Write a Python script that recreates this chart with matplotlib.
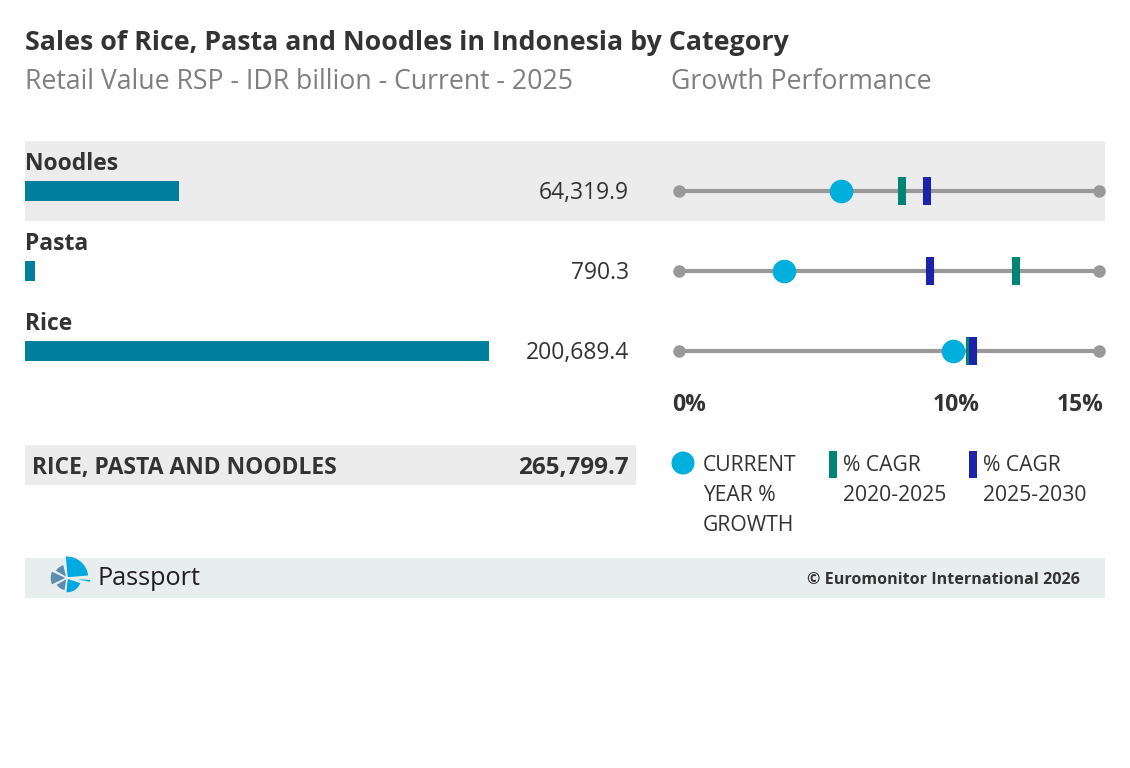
import matplotlib
matplotlib.use("Agg")
import matplotlib.pyplot as plt
from matplotlib.patches import Rectangle, Circle, Wedge

plt.rcParams['font.family'] = ['Open Sans', 'DejaVu Sans']

categories = ['Noodles', 'Pasta', 'Rice']
sales = [64319.9, 790.3, 200689.4]
value_labels = ['64,319.9', '790.3', '200,689.4']
current_growth = [5.8, 3.75, 9.8]
cagr_20_25 = [7.95, 12.05, 10.4]
cagr_25_30 = [8.85, 8.95, 10.5]
total_label = 'RICE, PASTA AND NOODLES'
total_value = '265,799.7'
growth_ticks = ['0%', '10%', '15%']
legend_lines = [['CURRENT', 'YEAR %', 'GROWTH'],
                ['% CAGR', '2020-2025'],
                ['% CAGR', '2025-2030']]

W, H = 1130, 768
DARK = '#333333'
GREY_TXT = '#7f7f7f'
BAR = '#00809e'
DOT = '#00afdb'
GREEN = '#008474'
BLUE = '#1d22a8'
LINE = '#999999'
FOOT = '#e8eded'
FS = 16.5


def px_axes(fig, x0, y0, x1, y1):
    # axes placed by pixel box (top-left origin)
    return fig.add_axes([x0 / W, 1 - y1 / H, (x1 - x0) / W, (y1 - y0) / H])


fig = plt.figure(figsize=(W / 100, H / 100), dpi=100)
bg = fig.add_axes([0, 0, 1, 1])
bg.set_xlim(0, W)
bg.set_ylim(H, 0)
bg.axis('off')

# bands
bg.add_patch(Rectangle((25, 141), 1080, 80, color='#ececec', lw=0))
bg.add_patch(Rectangle((25, 445), 611, 40, color='#ececec', lw=0))
bg.add_patch(Rectangle((25, 558), 1080, 40, color=FOOT, lw=0))

bg.text(25, 49.5, 'Sales of Rice, Pasta and Noodles in Indonesia by Category',
        fontsize=19.3, fontweight='bold', color=DARK, va='baseline')
bg.text(25, 89, 'Retail Value RSP - IDR billion - Current - 2025',
        fontsize=19.2, color=GREY_TXT, va='baseline')
bg.text(671, 89, 'Growth Performance', fontsize=19.2, color=GREY_TXT, va='baseline')

for i, (name, lab) in enumerate(zip(categories, value_labels)):
    y = 191 + 80 * i
    bg.text(25, y - 21, name, fontsize=FS, fontweight='bold', color=DARK, va='baseline')
    bg.text(629, y + 8, lab, fontsize=FS, color=DARK, va='baseline', ha='right')

bg.text(32, 474, total_label, fontsize=FS, fontweight='bold', color=DARK, va='baseline')
bg.text(629, 474, total_value, fontsize=17.5, fontweight='bold', color=DARK, va='baseline', ha='right')

bg.text(672, 411, growth_ticks[0], fontsize=FS, fontweight='bold', color=DARK, va='baseline')
bg.text(956, 411, growth_ticks[1], fontsize=FS, fontweight='bold', color=DARK, va='baseline', ha='center')
bg.text(1104, 411, growth_ticks[2], fontsize=FS, fontweight='bold', color=DARK, va='baseline', ha='right')

# legend
bg.add_patch(Circle((683, 463), 11.5, color=DOT, lw=0))
bg.add_patch(Rectangle((829, 451), 8, 27, color=GREEN, lw=0))
bg.add_patch(Rectangle((969, 451), 8, 27, color=BLUE, lw=0))
for x, lines in zip([703, 843, 983], legend_lines):
    for k, line in enumerate(lines):
        bg.text(x, 471 + 30 * k, line, fontsize=15.2, color=DARK, va='baseline')

# footer logo (y axis is inverted, so angles are mirrored)
cx, cy = 67, 578
def logo_wedge(r, a, b, col):
    bg.add_patch(Wedge((cx, cy), r, -b, -a, facecolor=col, edgecolor=FOOT, lw=1))
logo_wedge(22, 5, 95, '#00a9e0')
logo_wedge(24, -11, -3, '#00a9e0')
logo_wedge(15, -95, -18, '#00a9e0')
logo_wedge(14, 103, 150, '#5e8bb0')
logo_wedge(17, 155, 205, '#5e8bb0')
logo_wedge(13, 210, 262, '#5e8bb0')
bg.text(98, 585, 'Passport', fontsize=18.2, color='#231f20', va='baseline')
bg.text(1080, 583.5, '\u00a9 Euromonitor International 2026', fontsize=11.6,
        fontweight='bold', color=DARK, va='baseline', ha='right')

# bar axes
pad = 3430
axb = px_axes(fig, 25, 151, 489, 391)
axb.barh(range(len(categories)), [v + pad for v in sales], left=-pad,
         height=0.25, color=BAR)
axb.set_xlim(-pad, max(sales))
axb.set_ylim(2.5, -0.5)
axb.axis('off')
axb.patch.set_alpha(0)

# growth axes
axg = px_axes(fig, 679, 151, 1099, 391)
axg.set_xlim(0, 15)
axg.set_ylim(2.5, -0.5)
axg.axis('off')
axg.patch.set_alpha(0)
rows = list(range(len(categories)))
for i in rows:
    axg.plot([0, 15], [i, i], color=LINE, lw=3, solid_capstyle='butt', zorder=1)
    axg.plot([0, 15], [i, i], 'o', color=LINE, ms=8, zorder=1, clip_on=False)
axg.vlines(cagr_20_25, [r - 0.175 for r in rows], [r + 0.175 for r in rows],
           color=GREEN, lw=5.8, zorder=2)
axg.vlines(cagr_25_30, [r - 0.175 for r in rows], [r + 0.175 for r in rows],
           color=BLUE, lw=5.8, zorder=3)
axg.plot(current_growth, rows, 'o', color=DOT, ms=17, mew=0, zorder=4)

fig.savefig('out.png', dpi=100)
